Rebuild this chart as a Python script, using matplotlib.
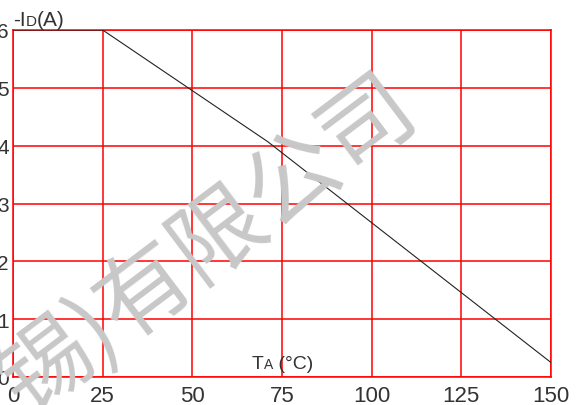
import matplotlib.pyplot as plt
from matplotlib.offsetbox import TextArea, HPacker, AnchoredOffsetbox

# Derating curve: drain current vs ambient temperature
temp = [0, 25, 71, 150]
current = [6.0, 6.0, 4.07, 0.25]

x_ticks = [0, 25, 50, 75, 100, 125, 150]
y_ticks = [0, 1, 2, 3, 4, 5, 6]

watermark = "锡)有限公司"

plt.rcParams['font.family'] = ['Liberation Sans', 'DejaVu Sans']
txt_col = '#333333'

fig = plt.figure(figsize=(5.82, 4.06), dpi=100)
ax = fig.add_axes([13 / 582, 1 - 378 / 406, 538 / 582, 347 / 406])

# faint company watermark behind everything
fig.text(0.357, 0.395, watermark, family=['Noto Sans CJK SC', 'DejaVu Sans'],
         fontsize=67, color='#c8c8c8', rotation=37, rotation_mode='anchor',
         ha='center', va='center', zorder=0)
ax.patch.set_alpha(0)

ax.plot(temp, current, color='#222222', linewidth=0.8, zorder=3)

ax.set_xlim(0, 150)
ax.set_ylim(0, 6)
ax.set_xticks(x_ticks)
ax.set_yticks(y_ticks)
ax.grid(True, color='#ff0000', linewidth=1.1)
ax.set_axisbelow(True)
for sp in ax.spines.values():
    sp.set_color('#ff0000')
    sp.set_linewidth(1.1)

ax.tick_params(axis='both', length=0, labelcolor=txt_col)
ax.tick_params(axis='x', pad=5.5, labelsize=16)
ax.tick_params(axis='y', pad=3, labelsize=15)


def packed(x, y, parts):
    # pieces of a caption placed side by side on one baseline
    boxes = [TextArea(s, textprops=dict(fontsize=size, color=txt_col))
             for s, size in parts]
    row = HPacker(children=boxes, align='baseline', pad=0, sep=0)
    box = AnchoredOffsetbox(loc='lower left', child=row, pad=0, borderpad=0,
                            frameon=False, bbox_to_anchor=(x / 582, 1 - y / 406),
                            bbox_transform=fig.transFigure)
    fig.add_artist(box)


packed(13, 30, [("-I", 15), ("D", 11), ("(A)", 15)])
packed(252, 373, [("T", 14), ("A", 10), (" (°C)", 14)])

fig.savefig('out.png', dpi=100)
